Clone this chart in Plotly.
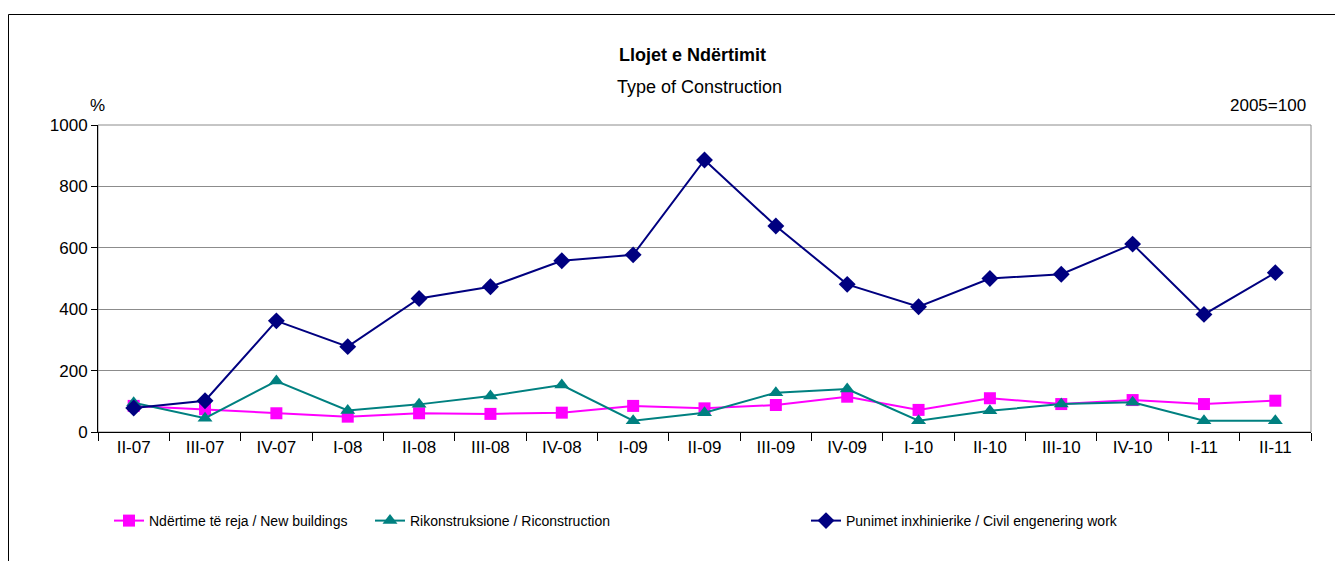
import plotly.graph_objects as go

categories = ["II-07", "III-07", "IV-07", "I-08", "II-08", "III-08", "IV-08", "I-09", "II-09",
              "III-09", "IV-09", "I-10", "II-10", "III-10", "IV-10", "I-11", "II-11"]
new_buildings = [85, 74, 61, 50, 61, 59, 63, 85, 77, 88, 115, 72, 110, 91, 104, 91, 102]
reconstruction = [95, 45, 166, 70, 90, 117, 153, 37, 63, 128, 140, 37, 69, 91, 97, 37, 37]
civil_engineering = [78, 102, 362, 278, 435, 473, 558, 577, 886, 671, 481, 408, 500, 514, 612, 383, 519]

names = ["Ndërtime të reja / New buildings",
         "Rikonstruksione / Riconstruction",
         "Punimet inxhinierike / Civil engenering work"]

FONT = "Liberation Sans, Arial, sans-serif"
FS = 17
LFS = 14

# page has 8px body margin; figure is 1335x553 visible from (8,8)
W, H = 1335, 553
L, R, T, B = 90, 32, 117, 129
pw = W - L - R
ph = H - T - B


def px_x(x):
    return (x - 8 - L) / pw


def px_y(y):
    return (H - B - (y - 8)) / ph


fig = go.Figure()
fig.add_trace(go.Scatter(x=categories, y=new_buildings, name=names[0], mode="lines+markers",
                         line=dict(color="#FF00FF", width=2),
                         marker=dict(symbol="square", size=12, color="#FF00FF"),
                         legend="legend"))
fig.add_trace(go.Scatter(x=categories, y=reconstruction, name=names[1], mode="lines+markers",
                         line=dict(color="#008080", width=2),
                         marker=dict(symbol="triangle-up", size=13, color="#008080"),
                         legend="legend2"))
fig.add_trace(go.Scatter(x=categories, y=civil_engineering, name=names[2], mode="lines+markers",
                         line=dict(color="#000080", width=2),
                         marker=dict(symbol="diamond", size=13, color="#000080"),
                         legend="legend3"))

leg_common = dict(orientation="h", yanchor="middle", xanchor="left",
                  font=dict(family=FONT, size=LFS, color="#000000"),
                  bgcolor="rgba(0,0,0,0)", itemwidth=30)

fig.update_layout(
    width=W, height=H,
    margin=dict(l=L, r=R, t=T, b=B),
    paper_bgcolor="white", plot_bgcolor="white",
    font=dict(family=FONT, size=FS, color="#000000"),
    showlegend=True,
    legend=dict(x=px_x(109), y=px_y(521), **leg_common),
    legend2=dict(x=px_x(370), y=px_y(521), **leg_common),
    legend3=dict(x=px_x(806), y=px_y(521), **leg_common),
    xaxis=dict(type="category", showgrid=False, showline=True, linecolor="#000000", linewidth=1,
               ticks="outside", ticklen=8, tickcolor="#000000", tickson="boundaries",
               tickfont=dict(family=FONT, size=FS, color="#000000"), range=[-0.5, 16.5],
               fixedrange=True),
    yaxis=dict(range=[0, 1000], tickvals=[0, 200, 400, 600, 800, 1000], showgrid=True,
               gridcolor="#8C8C8C", gridwidth=1, zeroline=False, showline=True,
               linecolor="#000000", linewidth=1, ticks="outside", ticklen=6, tickcolor="#000000",
               tickfont=dict(family=FONT, size=FS, color="#000000"), fixedrange=True),
    shapes=[
        dict(type="rect", xref="paper", yref="paper", x0=0, x1=1, y0=0, y1=1,
             line=dict(color="#8C8C8C", width=1), layer="below"),
        dict(type="rect", xref="paper", yref="paper", x0=px_x(8.5), x1=1.2, y0=-0.8, y1=px_y(14.5),
             line=dict(color="#000000", width=1), layer="below"),
    ],
    annotations=[
        dict(text="<b>Llojet e Ndërtimit</b>", xref="paper", yref="paper", x=px_x(692), y=px_y(55),
             xanchor="center", yanchor="middle", showarrow=False,
             font=dict(family=FONT, size=18, color="#000000")),
        dict(text="Type of Construction", xref="paper", yref="paper", x=px_x(699), y=px_y(87),
             xanchor="center", yanchor="middle", showarrow=False,
             font=dict(family=FONT, size=18, color="#000000")),
        dict(text="%", xref="paper", yref="paper", x=px_x(97), y=px_y(105),
             xanchor="center", yanchor="middle", showarrow=False,
             font=dict(family=FONT, size=FS, color="#000000")),
        dict(text="2005=100", xref="paper", yref="paper", x=px_x(1308), y=px_y(105),
             xanchor="right", yanchor="middle", showarrow=False,
             font=dict(family=FONT, size=FS, color="#000000")),
    ],
)

fig.write_html("out.html")
